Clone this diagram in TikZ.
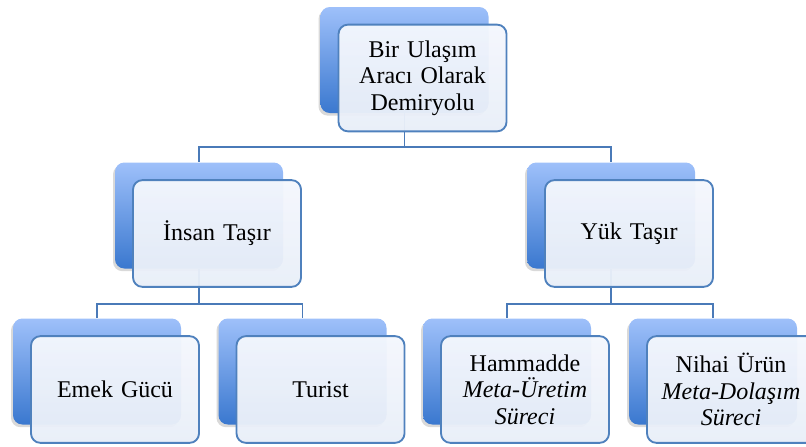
\documentclass[tikz,border=0pt]{standalone}
\usepackage{fontspec}
\setmainfont{Liberation Serif}
\usetikzlibrary{positioning,shadows}

\definecolor{backtop}{RGB}{158,192,250}
\definecolor{backbot}{RGB}{58,120,207}
\definecolor{fronttop}{RGB}{244,247,253}
\definecolor{frontbot}{RGB}{232,238,248}
\definecolor{rim}{RGB}{79,129,189}
\definecolor{wire}{RGB}{74,122,184}

\begin{document}
\begin{tikzpicture}[
    x=0.75pt, y=-0.75pt,
    back/.style={rectangle, rounded corners=7pt, minimum width=126pt, minimum height=79.5pt,
        top color=backtop, bottom color=backbot, draw=none,
        drop shadow={shadow xshift=-1.5pt, shadow yshift=-2pt, opacity=0.25, fill=black!60}},
    front/.style={rectangle, rounded corners=7pt, draw=rim, line width=1.4pt,
        minimum width=126pt, minimum height=80pt, text width=118pt, align=center,
        top color=fronttop, bottom color=frontbot, fill opacity=0.96, text opacity=1,
        font=\fontsize{18}{20}\selectfont},
    link/.style={draw=wire, line width=1.4pt}
]
\useasboundingbox (0,0) rectangle (806,446);

% back plates
\node (topb) [back] at (404.5,60) {};
\node (insb) [back] at (199,215.5) {};
\node (yukb) [back] at (611,215.5) {};
\node (emekb) [back] at (97,371.5) {};
\node (turb) [back] at (302.5,371.5) {};
\node (hamb) [back] at (507,371.5) {};
\node (nihb) [back] at (713,371.5) {};

% connectors
\draw [link] (topb.south) -- ++(0,34) -| (insb.north);
\draw [link] (topb.south) -- ++(0,34) -| (yukb.north);
\draw [link] (insb.south) -- ++(0,35) -| (emekb.north);
\draw [link] (insb.south) -- ++(0,35) -| (turb.north);
\draw [link] (yukb.south) -- ++(0,35) -| (hamb.north);
\draw [link] (yukb.south) -- ++(0,35) -| (nihb.north);

% front cards
\node (top) [front] at ([shift={(18,18)}]topb.center) {Bir Ulaşım\\Aracı Olarak\\Demiryolu};
\node (ins) [front] at ([shift={(18,18)}]insb.center) {İnsan Taşır};
\node (yuk) [front] at ([shift={(18,18)}]yukb.center) {Yük Taşır};
\node (emek) [front] at ([shift={(18,18)}]emekb.center) {Emek Gücü};
\node (tur) [front] at ([shift={(18,18)}]turb.center) {Turist};
\node (ham) [front] at ([shift={(18,18)}]hamb.center) {Hammadde\\\textit{Meta-Üretim}\\\textit{Süreci}};
\node (nih) [front] at ([shift={(18,18)}]nihb.center) {Nihai Ürün\\\textit{Meta-Dolaşım}\\\textit{Süreci}};

\end{tikzpicture}
\end{document}
